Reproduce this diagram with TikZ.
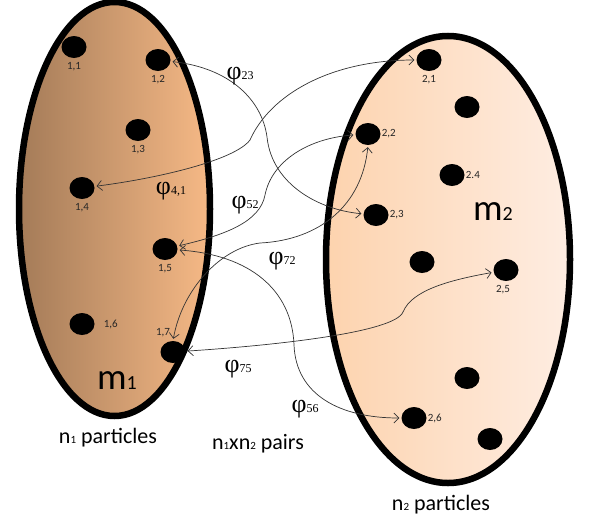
\documentclass[tikz,border=0pt]{standalone}
\usepackage{fontspec}
\setmainfont{Carlito}
\newfontfamily\grk{Liberation Serif}
\usetikzlibrary{arrows.meta,positioning,shapes.geometric}
\definecolor{brownL}{HTML}{A47B58}
\definecolor{brownR}{HTML}{F6B986}
\definecolor{peachL}{HTML}{FDD3AE}
\definecolor{peachR}{HTML}{FEEDE2}
\newcommand\phl[1]{{\grk\fontsize{26}{26}\selectfont φ}{\grk\fontsize{12}{12}\selectfont #1}}
\tikzset{
  dot/.style={ellipse,fill=black,minimum width=25pt,minimum height=22pt,inner sep=0pt},
  lbl/.style={font=\fontsize{11}{11}\selectfont,text=black!85,inner sep=0pt},
  link/.style={<->,line width=0.7pt,black!80,shorten <=2pt,shorten >=2pt},
  bag/.style={line width=6.5pt}
}
\begin{document}
\begin{tikzpicture}[x=1pt,y=-1pt,>={Straight Barb[length=5pt,width=10pt]}]
  \useasboundingbox (0,0) rectangle (591,522);
  % the two sets
  \draw[bag,left color=brownL,right color=brownR] (114.5,209) ellipse (95.5 and 207);
  \draw[bag,left color=peachL,right color=peachR] (448,259.5) ellipse (122 and 223.5);
  % particles of m1
  \foreach \n/\x/\y in {11/74/47,12/158/60,13/138/130,14/82/188,15/165/249,16/82/324,17/173/352}
    \node[dot] (p\n) at (\x,\y) {};
  % particles of m2
  \foreach \n/\x/\y in {21/429/60,2a/467/107,22/368/134,24/452/175,23/376/215,2b/422/262,25/506/270,2c/467/378,26/414/418,2d/490/439}
    \node[dot] (p\n) at (\x,\y) {};
  \node[lbl,below=4pt of p11] (l11) {1,1};
  \node[lbl,below=4pt of p12] (l12) {1,2};
  \node[lbl,below=4pt of p13] (l13) {1,3};
  \node[lbl,below=4pt of p14] (l14) {1,4};
  \node[lbl,below=4pt of p15] (l15) {1,5};
  \node[lbl,right=9pt of p16] (l16) {1,6};
  \node[lbl,above=4pt of p17,xshift=-10pt] (l17) {1,7};
  \node[lbl,below=4pt of p21] (l21) {2,1};
  \node[lbl,right=1pt of p22] (l22) {2,2};
  \node[lbl,right=1pt of p24] (l24) {2.4};
  \node[lbl,right=1pt of p23] (l23) {2,3};
  \node[lbl,below=4pt of p25,xshift=-3pt] (l25) {2,5};
  \node[lbl,right=1pt of p26] (l26) {2,6};
  % pairs
  \draw[link] (p12) .. controls (230,68) and (262,100) .. (267,137) .. controls (272,185) and (320,210) .. (p23);
  \draw[link] (p14) .. controls (160,178) and (235,160) .. (250,140) .. controls (270,95) and (330,60) .. (p21);
  \draw[link] (p15) .. controls (225,235) and (260,222) .. (265,195) .. controls (272,160) and (310,138) .. (p22);
  \draw[link] (p17.north) .. controls (182,290) and (220,248) .. (260,243) .. controls (320,240) and (362,205) .. (p22.south);
  \draw[link] (p15) .. controls (250,255) and (292,290) .. (294,345) .. controls (296,395) and (340,418) .. (p26);
  \draw[link] (p17) .. controls (280,345) and (395,332) .. (403,312) .. controls (412,290) and (450,280) .. (p25);
  \node (f23) at (240,76) {\phl{23}};
  \node (f41) at (171,191) {\phl{4,1}};
  \node (f52) at (245,205) {\phl{52}};
  \node (f72) at (282,261) {\phl{72}};
  \node (f75) at (238,369) {\phl{75}};
  \node (f56) at (305,409) {\phl{56}};
  % names and counts
  \node[font=\fontsize{37}{37}\selectfont] (m1) at (117,381) {m{\fontsize{20}{20}\selectfont 1}};
  \node[font=\fontsize{37}{37}\selectfont] (m2) at (493,212) {m{\fontsize{20}{20}\selectfont 2}};
  \node[font=\fontsize{22}{22}\selectfont] (n1) at (108,438) {n{\fontsize{11}{11}\selectfont 1} particles};
  \node[font=\fontsize{22}{22}\selectfont] (np) at (258,444) {n{\fontsize{11}{11}\selectfont 1}xn{\fontsize{11}{11}\selectfont 2} pairs};
  \node[font=\fontsize{22}{22}\selectfont] (n2) at (441,505) {n{\fontsize{11}{11}\selectfont 2} particles};
\end{tikzpicture}
\end{document}
